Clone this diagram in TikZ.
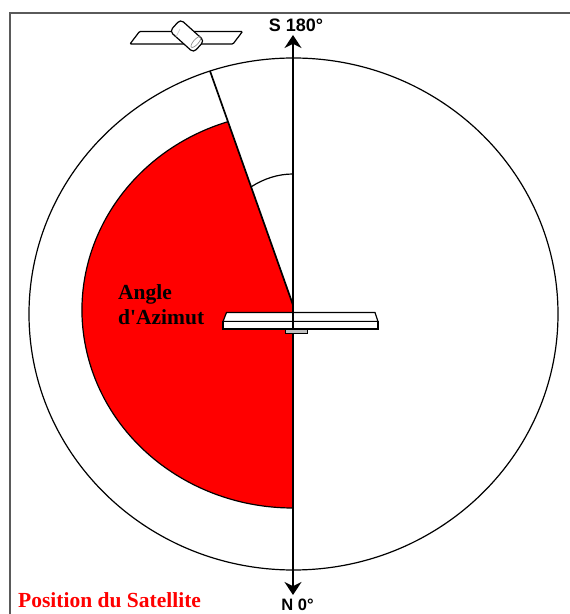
\documentclass[tikz,border=0pt]{standalone}
\usepackage{fontspec}
\setmainfont{Liberation Serif}
\newfontfamily\labelfont{Liberation Sans}
\usepackage{tikz}
\usetikzlibrary{arrows.meta, positioning, calc}
\definecolor{azimutred}{RGB}{255, 0, 0}
\definecolor{framegray}{RGB}{90, 90, 90}

\begin{document}
\begin{tikzpicture}[x=1pt, y=1pt, >={Stealth[length=13pt,width=17pt]}]
        \useasboundingbox (0,0) rectangle (570,614);
        \draw [framegray, line width=1.3pt] (10,0) -- (10,601) -- (570,601);

        \coordinate (centre) at (293,309);
        \coordinate (rim) at (210,543);
        \coordinate (south) at (293,579);
        \coordinate (north) at (293,19);

        \fill [azimutred] (293,304) ++(107.9:211 and 198) arc [start angle=107.9, end angle=270, x radius=211, y radius=198] -- (centre) -- cycle;
        \draw [line width=1.2pt] (293,304) ++(107.9:211 and 198) arc [start angle=107.9, end angle=270, x radius=211, y radius=198];
        \draw [line width=1.2pt] (293.5,300) ellipse [x radius=264.5, y radius=256];
        \draw [line width=1.2pt] (293,440) arc [start angle=90, end angle=115.8, x radius=97, y radius=131];
        \draw [line width=1.7pt] (rim) -- (centre);
        \draw [<->, line width=1.3pt] (south) -- (north);

        \draw [line width=1.2pt, fill=white, rounded corners=1pt] (130,570) -- (139.5,582.5) -- (242.5,582.5) -- (233,570) -- cycle;
        \draw [line width=1.2pt, fill=white, rounded corners=4pt, rotate around={-42:(187,578)}] (171,570) rectangle (203,586);
        \draw [gray, line width=0.6pt, rotate around={-42:(196,572)}] (196,572) ellipse [x radius=2.5, y radius=7];
        \draw [lightgray, line width=0.6pt] (180,585) -- (176,577);

        \draw [fill=lightgray, line width=0.6pt] (285,285) rectangle (307,281);
        \draw [fill=white, line width=1.2pt] (226.5,301.5) -- (375,301.5) -- (378,292.5) -- (223,292.5) -- cycle;
        \draw [fill=white, line width=1.2pt] (223,292.5) rectangle (378,285);
        \draw [line width=1.3pt] (293,301.5) -- (293,285);

        \node [font=\bfseries\fontsize{21.5}{22}\selectfont, anchor=base west, inner sep=0pt] (angle) at (118,314) {Angle};
        \node [font=\bfseries\fontsize{21.5}{22}\selectfont, anchor=base west, inner sep=0pt] (azimut) at (118,289) {d\textquotesingle Azimut};
        \node [font=\bfseries\fontsize{21.5}{22}\selectfont, text=azimutred, anchor=base west, inner sep=0pt] (position) at (18,6) {Position du Satellite};
        \node [font=\labelfont\bfseries\fontsize{18}{18}\selectfont, inner sep=0pt, anchor=base] (slabel) at (296,582) {S 180°};
        \node [font=\labelfont\bfseries\fontsize{16.5}{17}\selectfont, inner sep=0pt, anchor=base] (nlabel) at (297.5,4) {N 0°};
    \end{tikzpicture}
\end{document}
